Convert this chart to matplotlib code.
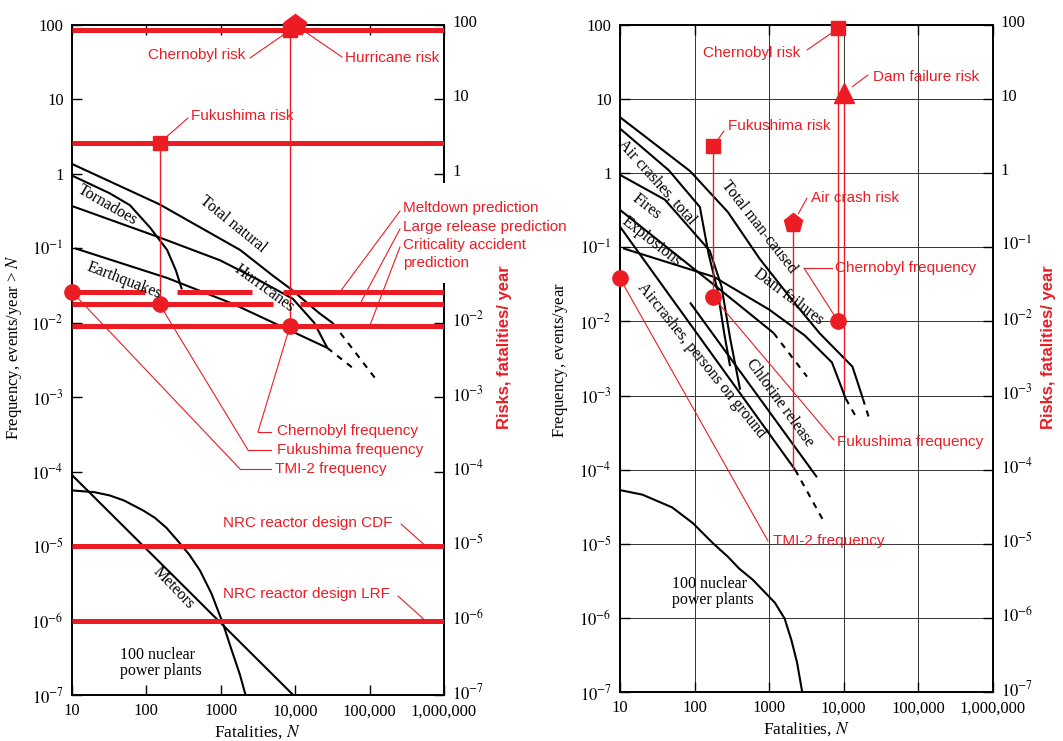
import matplotlib.pyplot as plt
from matplotlib.patches import Rectangle
from matplotlib.ticker import NullFormatter
from matplotlib.transforms import ScaledTranslation

plt.rcParams['font.family'] = ['Liberation Serif', 'DejaVu Serif']
plt.rcParams['mathtext.fontset'] = 'stix'

RED = '#ec1c24'
SANS = ['Liberation Sans', 'DejaVu Sans']
W, H = 1063, 741

# axis ticks shared by both panels
x_ticks = [10, 100, 1000, 1e4, 1e5, 1e6]
x_labels = ['10', '100', '1000', '10,000', '100,000', '1,000,000']
y_ticks = [1e-7, 1e-6, 1e-5, 1e-4, 1e-3, 1e-2, 1e-1, 1, 10, 100]
y_labels = [r'$10^{-7}$', r'$10^{-6}$', r'$10^{-5}$', r'$10^{-4}$', r'$10^{-3}$',
            r'$10^{-2}$', r'$10^{-1}$', '1', '10', '100']

# ---- natural events (left) ----
total_natural_n = [10, 150, 1820, 5000, 8500, 21000, 32000]
total_natural_f = [1.36, 0.39, 0.095, 0.043, 0.029, 0.0135, 0.0099]
total_natural_ext_n = [32000, 130000]
total_natural_ext_f = [0.0099, 0.0016]
hurricanes_n = [10, 150, 980, 3000, 9300, 18000, 27000]
hurricanes_f = [0.37, 0.14, 0.069, 0.039, 0.021, 0.010, 0.0046]
hurricanes_ext_n = [27000, 60000]
hurricanes_ext_f = [0.0046, 0.00245]
tornadoes_n = [10, 32, 60, 112, 190, 250, 300]
tornadoes_f = [0.95, 0.55, 0.38, 0.19, 0.095, 0.05, 0.028]
earthquakes_n = [11, 190, 1450, 5700, 27000]
earthquakes_f = [0.1, 0.040, 0.018, 0.0095, 0.0046]
meteors_n = [10, 9400]
meteors_f = [9e-5, 1e-7]
plants_l_n = [10, 20, 32, 50, 91, 130, 187, 280, 380, 525, 750, 1070, 1400, 1800, 2150]
plants_l_f = [5.6e-5, 5.3e-5, 4.8e-5, 4.1e-5, 3.0e-5, 2.4e-5, 1.75e-5, 1.1e-5,
              7.6e-6, 4.7e-6, 2.3e-6, 9.1e-7, 4.0e-7, 1.9e-7, 1e-7]

# ---- man-caused events (right) ----
total_man_n = [10, 87, 280, 750, 2000, 4800, 13200, 18200]
total_man_f = [5.7, 1.07, 0.30, 0.07, 0.02, 0.0069, 0.00245, 0.00091]
total_man_ext_n = [18200, 22400]
total_man_ext_f = [0.00091, 0.00047]
air_total_n = [10, 45, 118, 154, 204, 250, 300]
air_total_f = [4.0, 1.1, 0.35, 0.083, 0.026, 0.007, 0.0025]
fires_n = [10, 40, 160, 230, 300, 410]
fires_f = [0.95, 0.44, 0.09, 0.03, 0.006, 0.0012]
explosions_n = [10, 200, 1150]
explosions_f = [0.32, 0.029, 0.007]
explosions_ext_n = [1150, 3240]
explosions_ext_f = [0.007, 0.0018]
dam_n = [11, 182, 1000, 3000, 7000, 10700]
dam_f = [0.097, 0.040, 0.0145, 0.0065, 0.0028, 0.00091]
dam_ext_n = [10700, 15500]
dam_ext_f = [0.00091, 0.00047]
ground_n = [10, 2240]
ground_f = [0.19, 1e-4]
ground_ext_n = [2240, 5600]
ground_ext_f = [1e-4, 1.9e-5]
chlorine_n = [87, 4400]
chlorine_f = [0.018, 7.9e-5]
plants_r_n = [10, 20, 50, 95, 180, 280, 400, 600, 815, 1200, 1620, 2000, 2380, 2790]
plants_r_f = [5.3e-5, 4.6e-5, 3.1e-5, 1.9e-5, 1.0e-5, 6.7e-6, 4.6e-6, 3.3e-6,
              2.4e-6, 1.6e-6, 9.8e-7, 5e-7, 2.5e-7, 1e-7]

# ---- nuclear overlay values ----
chernobyl_n = 8500
fukushima_n_l, fukushima_n_r = 150, 177
chernobyl_risk_l, chernobyl_risk_r = 85, 90
fukushima_risk_l, fukushima_risk_r = 2.6, 2.3
hurricane_risk = (1e4, 100)
meltdown_f = 0.026
large_release_f = 0.0178
criticality_f = 0.009
nrc_cdf, nrc_lrf = 1e-5, 1e-6
meltdown_spans = [(10, 96), (258, 2630), (6900, 1e6)]
large_release_spans = [(10, 5000), (11500, 1e6)]
tmi_freq_l, tmi_freq_r = 0.026, 0.038
fukushima_freq_l, fukushima_freq_r = 0.0178, 0.0215
chernobyl_freq_l, chernobyl_freq_r = 0.009, 0.0100
dam_risk = (1e4, 12)
dam_freq = 0.0012
air_crash_risk = (2100, 0.21)
air_crash_freq = 1e-4


def fp(x, y):
    # image pixel position (origin top-left) -> figure pixels
    return (x, H - y)


def setup(ax, ylab_x):
    ax.set_xscale('log')
    ax.set_yscale('log')
    ax.set_xlim(10, 1e6)
    ax.set_ylim(1e-7, 100)
    ax.set_xticks(x_ticks, x_labels)
    ax.set_yticks(y_ticks, y_labels)
    ax.xaxis.set_minor_formatter(NullFormatter())
    ax.yaxis.set_minor_formatter(NullFormatter())
    ax.tick_params(which='major', direction='in', length=7, width=1,
                   top=True, right=True, labelright=True, labelsize=12, pad=6)
    ax.tick_params(axis='x', which='minor', length=0)
    ax.tick_params(axis='y', which='minor', direction='in', length=2,
                   left=True, right=False)
    # right-hand labels sit a little higher than their ticks
    up = ScaledTranslation(0, 4 / 100, fig.dpi_scale_trans)
    for t in ax.yaxis.get_major_ticks():
        t.label2.set_transform(t.label2.get_transform() + up)
    for s in ax.spines.values():
        s.set_linewidth(1.4)
    ax.set_xlabel('Fatalities, $N$', fontsize=12.5)
    ax.set_ylabel('Frequency, events/year > $N$', fontsize=12)
    ax.xaxis.set_label_coords(0.5, -0.042)
    ax.yaxis.set_label_coords(ylab_x, 0.52)


def curve(ax, n, f, dashed=False):
    ax.plot(n, f, color='black', lw=1.5, ls=(0, (3, 3)) if dashed else '-',
            solid_capstyle='butt', solid_joinstyle='round')


def red_label(x, y, s):
    fig.text(x / W, 1 - y / H, s, color=RED, family=SANS, fontsize=11,
             ha='left', va='center', zorder=5)


def leader(ax, xy, start, shrink=0):
    ax.annotate('', xy=xy, xycoords='data', xytext=fp(*start),
                textcoords='figure pixels', annotation_clip=False,
                arrowprops=dict(arrowstyle='-', color=RED, lw=0.8,
                                shrinkA=0, shrinkB=shrink))


def elbow(ax, xy, corner, end):
    leader(ax, xy, corner, shrink=6)
    fig.add_artist(plt.Line2D([corner[0] / W, end[0] / W],
                              [1 - corner[1] / H, 1 - end[1] / H],
                              color=RED, lw=0.8))


fig = plt.figure(figsize=(W / 100, H / 100), dpi=100)
ax1 = fig.add_axes([72 / W, 1 - 695 / H, 372 / W, 670 / H])
ax2 = fig.add_axes([620 / W, 1 - 692 / H, 372.5 / W, 667 / H])
setup(ax1, -0.129)
setup(ax2, -0.134)
# the right 10^-1 label of the left panel is covered by the prediction notes
ax1.yaxis.get_major_ticks()[6].label2.set_visible(False)

# ================= left panel =================
curve(ax1, total_natural_n, total_natural_f)
curve(ax1, total_natural_ext_n, total_natural_ext_f, dashed=True)
curve(ax1, hurricanes_n, hurricanes_f)
curve(ax1, hurricanes_ext_n, hurricanes_ext_f, dashed=True)
curve(ax1, tornadoes_n, tornadoes_f)
curve(ax1, earthquakes_n, earthquakes_f)
curve(ax1, meteors_n, meteors_f)
curve(ax1, plants_l_n, plants_l_f)

lbl = dict(fontsize=11.5, ha='center', va='center', rotation_mode='anchor')
for s, x, y, rot in [('Total natural', 233, 224, -39), ('Tornadoes', 107, 205, -30),
                     ('Earthquakes', 124, 281, -21), ('Hurricanes', 264, 288, -36),
                     ('Meteors', 174, 588, -46)]:
    fig.text(x / W, 1 - y / H, s, rotation=rot, **lbl)
fig.text(120 / W, 1 - 663 / H, '100 nuclear\npower plants', fontsize=11.5,
         ha='left', va='center', linespacing=1.0)

# horizontal risk / prediction lines
hl = dict(color=RED, lw=3.6, solid_capstyle='butt', zorder=4)
ax1.axhline(chernobyl_risk_l, **hl)
ax1.axhline(fukushima_risk_l, **hl)
for a, b in meltdown_spans:
    ax1.plot([a, b], [meltdown_f] * 2, **hl)
for a, b in large_release_spans:
    ax1.plot([a, b], [large_release_f] * 2, **hl)
ax1.axhline(criticality_f, **hl)
ax1.axhline(nrc_cdf, **hl)
ax1.axhline(nrc_lrf, **hl)

ax1.plot([fukushima_n_l] * 2, [fukushima_risk_l, fukushima_freq_l], color=RED, lw=1.0, zorder=4)
ax1.plot([chernobyl_n] * 2, [chernobyl_risk_l, chernobyl_freq_l], color=RED, lw=1.0, zorder=4)

mk = dict(color=RED, ls='none', clip_on=False, zorder=6)
ax1.plot(*hurricane_risk, marker='p', ms=16, **mk)
ax1.plot(chernobyl_n, chernobyl_risk_l, marker='s', ms=10, **mk)
ax1.plot(fukushima_n_l, fukushima_risk_l, marker='s', ms=10, **mk)
ax1.plot([10, fukushima_n_l, chernobyl_n],
         [tmi_freq_l, fukushima_freq_l, chernobyl_freq_l], marker='o', ms=11, **mk)

red_label(148, 55, 'Chernobyl risk')
leader(ax1, (chernobyl_n, chernobyl_risk_l), (250, 58), shrink=6)
red_label(345, 58, 'Hurricane risk')
leader(ax1, hurricane_risk, (342, 57), shrink=10)
red_label(191, 116, 'Fukushima risk')
leader(ax1, (fukushima_n_l, fukushima_risk_l), (188, 118), shrink=6)

# mask that breaks the right frame behind the prediction labels
fig.add_artist(Rectangle((401 / W, 1 - 283 / H), 180 / W, 100 / H,
                         transform=fig.transFigure, facecolor='white',
                         edgecolor='none', zorder=2))
red_label(403, 208, 'Meltdown prediction')
red_label(403, 227, 'Large release prediction')
red_label(403, 245, 'Criticality accident')
red_label(403, 263, 'prediction')
leader(ax1, (4.0e4, meltdown_f), (400, 211))
leader(ax1, (7.4e4, large_release_f), (400, 229))
leader(ax1, (1.0e5, criticality_f), (400, 247))

red_label(277, 431, 'Chernobyl frequency')
elbow(ax1, (chernobyl_n, chernobyl_freq_l), (258, 432), (271, 432))
red_label(277, 450, 'Fukushima frequency')
elbow(ax1, (fukushima_n_l, fukushima_freq_l), (248, 450), (271, 450))
red_label(275, 469, 'TMI-2 frequency')
elbow(ax1, (10, tmi_freq_l), (240, 469), (271, 469))

red_label(223, 523, 'NRC reactor design CDF')
leader(ax1, (5.7e5, nrc_cdf), (401, 524))
red_label(223, 594, 'NRC reactor design LRF')
leader(ax1, (5.6e5, nrc_lrf), (398, 596))

# ================= right panel =================
ax2.grid(True, which='major', color='#333333', lw=0.7)
curve(ax2, total_man_n, total_man_f)
curve(ax2, total_man_ext_n, total_man_ext_f, dashed=True)
curve(ax2, air_total_n, air_total_f)
curve(ax2, fires_n, fires_f)
curve(ax2, explosions_n, explosions_f)
curve(ax2, explosions_ext_n, explosions_ext_f, dashed=True)
curve(ax2, dam_n, dam_f)
curve(ax2, dam_ext_n, dam_ext_f, dashed=True)
curve(ax2, ground_n, ground_f)
curve(ax2, ground_ext_n, ground_ext_f, dashed=True)
curve(ax2, chlorine_n, chlorine_f)
curve(ax2, plants_r_n, plants_r_f)

for s, x, y, rot in [('Air crashes, total', 657, 182, -48), ('Fires', 647, 207, -38),
                     ('Explosions', 652, 242, -38), ('Total man-caused', 759, 227, -52),
                     ('Dam failures', 789, 297, -37),
                     ('Aircrashes, persons on ground', 701, 360, -51),
                     ('Chlorine release', 780, 403, -54)]:
    fig.text(x / W, 1 - y / H, s, rotation=rot, **lbl)
fig.text(672 / W, 1 - 592 / H, '100 nuclear\npower plants', fontsize=11.5,
         ha='left', va='center', linespacing=1.0)

ax2.plot([chernobyl_n] * 2, [chernobyl_risk_r, chernobyl_freq_r], color=RED, lw=1.0, zorder=4)
ax2.plot([dam_risk[0]] * 2, [dam_risk[1], dam_freq], color=RED, lw=1.0, zorder=4)
ax2.plot([fukushima_n_r] * 2, [fukushima_risk_r, fukushima_freq_r], color=RED, lw=1.0, zorder=4)
ax2.plot([air_crash_risk[0]] * 2, [air_crash_risk[1], air_crash_freq], color=RED, lw=1.0, zorder=4)

ax2.plot(chernobyl_n, chernobyl_risk_r, marker='s', ms=10, **mk)
ax2.plot(fukushima_n_r, fukushima_risk_r, marker='s', ms=10, **mk)
ax2.plot(*dam_risk, marker='^', ms=15, **mk)
ax2.plot(*air_crash_risk, marker='p', ms=14, **mk)
ax2.plot([10, fukushima_n_r, chernobyl_n],
         [tmi_freq_r, fukushima_freq_r, chernobyl_freq_r], marker='o', ms=11, **mk)

red_label(703, 53, 'Chernobyl risk')
leader(ax2, (chernobyl_n, chernobyl_risk_r), (807, 50), shrink=6)
red_label(873, 77, 'Dam failure risk')
leader(ax2, dam_risk, (868, 75), shrink=8)
red_label(728, 126, 'Fukushima risk')
leader(ax2, (fukushima_n_r, fukushima_risk_r), (724, 131), shrink=6)
red_label(811, 198, 'Air crash risk')
leader(ax2, air_crash_risk, (807, 198), shrink=8)
red_label(835, 268, 'Chernobyl frequency')
elbow(ax2, (chernobyl_n, chernobyl_freq_r), (804, 268), (832, 268))
red_label(837, 442, 'Fukushima frequency')
leader(ax2, (fukushima_n_r, fukushima_freq_r), (834, 440), shrink=6)
red_label(773, 541, 'TMI-2 frequency')
leader(ax2, (10, tmi_freq_r), (768, 541), shrink=6)

for x in (505, 1048):
    fig.text(x / W, 1 - 347 / H, 'Risks, fatalities/ year', rotation=90, color=RED,
             family=SANS, fontsize=12, fontweight='bold', ha='center', va='center')

fig.savefig('out.png', dpi=100)
